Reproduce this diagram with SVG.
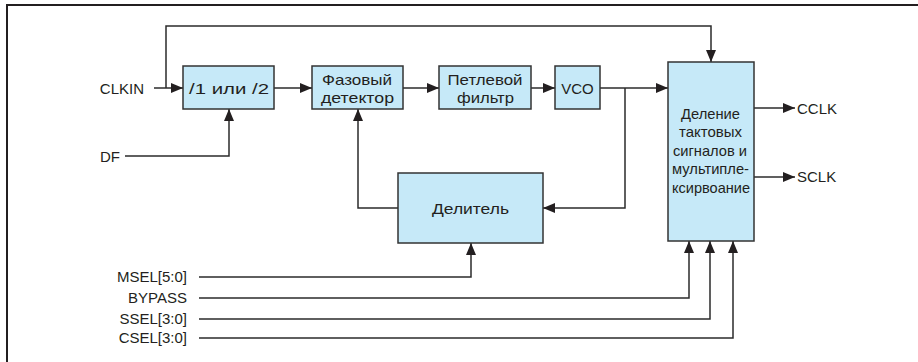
<svg xmlns="http://www.w3.org/2000/svg" width="918" height="362" viewBox="0 0 918 362">
<style>
.box{fill:#c6e9f8;stroke:#333;stroke-width:1.5}
.t{font-family:"Liberation Sans",Arial,sans-serif;font-size:15px;fill:#231f20}
.m{text-anchor:middle}
.e{text-anchor:end}
.w{fill:none;stroke:#2b2b2b;stroke-width:1.5}
</style>
<defs>
<marker id="a" markerWidth="12" markerHeight="10" refX="12" refY="5" orient="auto" markerUnits="userSpaceOnUse">
<path d="M0,0 L12,5 L0,10 Z" fill="#231f20"/>
</marker>
</defs>
<rect width="918" height="362" fill="#fff"/>
<path d="M7,362 V5 H918" fill="none" stroke="#231f20" stroke-width="2"/>

<g id="connectors" class="w">
<path d="M154,88 H183" marker-end="url(#a)"/>
<path d="M166,88 V26 H711 V62" marker-end="url(#a)"/>
<path d="M125,156 H229 V109" marker-end="url(#a)"/>
<path d="M274,88 H312" marker-end="url(#a)"/>
<path d="M403,88 H439" marker-end="url(#a)"/>
<path d="M531,88 H555" marker-end="url(#a)"/>
<path d="M600,88 H668" marker-end="url(#a)"/>
<path d="M625,88 V208 H543" marker-end="url(#a)"/>
<path d="M398,208 H358 V109" marker-end="url(#a)"/>
<path d="M754,108 H795" marker-end="url(#a)"/>
<path d="M754,177 H795" marker-end="url(#a)"/>
<path d="M199,277 H471 V243" marker-end="url(#a)"/>
<path d="M199,298 H689 V241" marker-end="url(#a)"/>
<path d="M199,319 H710 V241" marker-end="url(#a)"/>
<path d="M199,338 H733 V241" marker-end="url(#a)"/>
</g>

<g id="labels">
<text class="t e" x="144" y="94">CLKIN</text>
<text class="t e" x="120" y="162">DF</text>
<text class="t e" x="187" y="282">MSEL[5:0]</text>
<text class="t e" x="187" y="303">BYPASS</text>
<text class="t e" x="187" y="324">SSEL[3:0]</text>
<text class="t e" x="187" y="343">CSEL[3:0]</text>
<text class="t" x="797" y="113.5">CCLK</text>
<text class="t" x="797" y="182">SCLK</text>
</g>

<g id="div12">
<rect class="box" x="183" y="66" width="91" height="43"/>
<text class="t m" x="229" y="94" textLength="80" lengthAdjust="spacingAndGlyphs">/1 или /2</text>
</g>
<g id="phase">
<rect class="box" x="312" y="66" width="91" height="43"/>
<text class="t m" x="357" y="85" textLength="70" lengthAdjust="spacingAndGlyphs">Фазовый</text>
<text class="t m" x="357.5" y="103" textLength="73" lengthAdjust="spacingAndGlyphs">детектор</text>
</g>
<g id="filter">
<rect class="box" x="439" y="66" width="92" height="43"/>
<text class="t m" x="485" y="85" textLength="75" lengthAdjust="spacingAndGlyphs">Петлевой</text>
<text class="t m" x="485.5" y="103" textLength="57" lengthAdjust="spacingAndGlyphs">фильтр</text>
</g>
<g id="vco">
<rect class="box" x="555" y="66" width="45" height="43"/>
<text class="t m" x="577.5" y="94">VCO</text>
</g>
<g id="divider">
<rect class="box" x="398" y="173" width="145" height="70"/>
<text class="t m" x="470.5" y="214" textLength="77" lengthAdjust="spacingAndGlyphs">Делитель</text>
</g>
<g id="mux">
<rect class="box" x="668" y="62" width="86" height="179"/>
<text class="t m" x="710.5" y="119" textLength="59" lengthAdjust="spacingAndGlyphs">Деление</text>
<text class="t m" x="710.5" y="137" textLength="63" lengthAdjust="spacingAndGlyphs">тактовых</text>
<text class="t m" x="710" y="155.5" textLength="74" lengthAdjust="spacingAndGlyphs">сигналов и</text>
<text class="t m" x="710.5" y="174" textLength="77" lengthAdjust="spacingAndGlyphs">мультипле-</text>
<text class="t m" x="711" y="192.5" textLength="78" lengthAdjust="spacingAndGlyphs">ксирвоание</text>
</g>
</svg>
